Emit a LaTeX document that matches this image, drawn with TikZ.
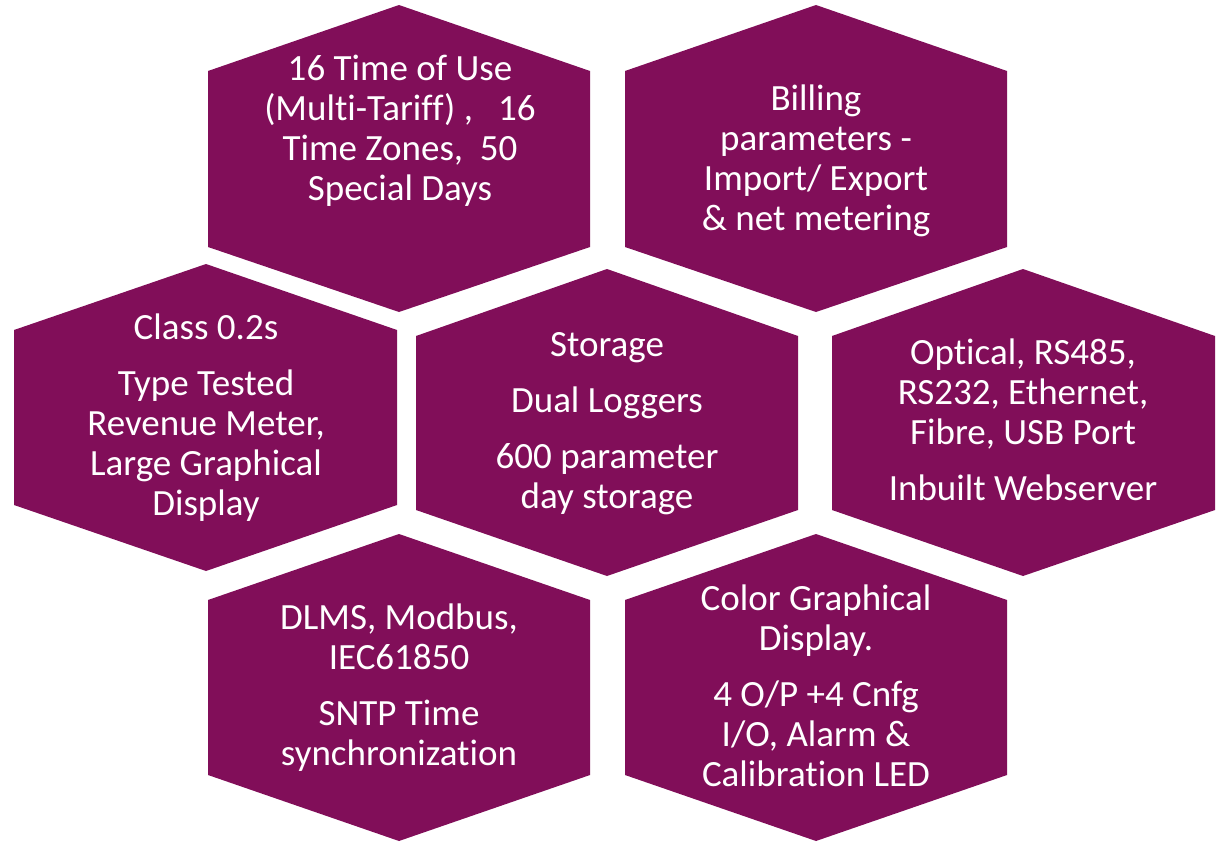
\documentclass[tikz,border=0pt]{standalone}
\usepackage{fontspec}
\setmainfont{Carlito}[Ligatures=NoCommon]
\definecolor{plum}{RGB}{129,14,89}
\tikzset{
  hexfill/.style={fill=plum},
  feature/.style={text=white, align=center, inner sep=0pt, anchor=base,
    font=\fontsize{37}{40}\selectfont}
}
\newcommand{\pgap}{\\[16pt]}
\begin{document}
\begin{tikzpicture}[x=1pt,y=-1pt]
\useasboundingbox (0,0) rectangle (1216,843);
% honeycomb of feature cells
\fill[hexfill] (399,5) -- (590,71) -- (590,247) -- (399,312) -- (208,247) -- (208,71) -- cycle;
\fill[hexfill] (816,5) -- (1007,71) -- (1007,247) -- (816,312) -- (625,247) -- (625,71) -- cycle;
\fill[hexfill] (206,264) -- (397,330) -- (397,505) -- (206,571) -- (14,505) -- (14,330) -- cycle;
\fill[hexfill] (607,269) -- (798,336) -- (798,510) -- (607,576) -- (416,510) -- (416,336) -- cycle;
\fill[hexfill] (1023,269) -- (1215,336) -- (1215,510) -- (1023,576) -- (832,510) -- (832,336) -- cycle;
\fill[hexfill] (399,534) -- (590,600) -- (590,775) -- (399,841) -- (208,775) -- (208,600) -- cycle;
\fill[hexfill] (816,534) -- (1007,600) -- (1007,775) -- (816,841) -- (625,775) -- (625,600) -- cycle;
% cell texts (anchored at the baseline of their last line)
\node[feature] (tou) at (400,200) {16 Time of Use\\(Multi-Tariff)~,~~~16\\Time Zones,~~50\\Special Days};
\node[feature] (billing) at (816,230) {Billing\\parameters -\\Import/ Export\\\& net metering};
\node[feature] (class) at (206,515) {Class 0.2s\pgap Type Tested\\Revenue Meter,\\Large Graphical\\Display};
\node[feature] (storage) at (607,508) {Storage\pgap Dual Loggers\pgap 600 parameter\\day storage};
\node[feature] (comms) at (1023,500) {Optical, RS485,\\RS232, Ethernet,\\Fibre, USB Port\pgap Inbuilt Webserver};
\node[feature] (proto) at (399,765) {DLMS, Modbus,\\IEC61850\pgap SNTP Time\\synchronization};
\node[feature] (display) at (816,786) {Color Graphical\\Display.\pgap 4 O/P +4 Cnfg\\I/O, Alarm \&\\Calibration LED};
\end{tikzpicture}
\end{document}
